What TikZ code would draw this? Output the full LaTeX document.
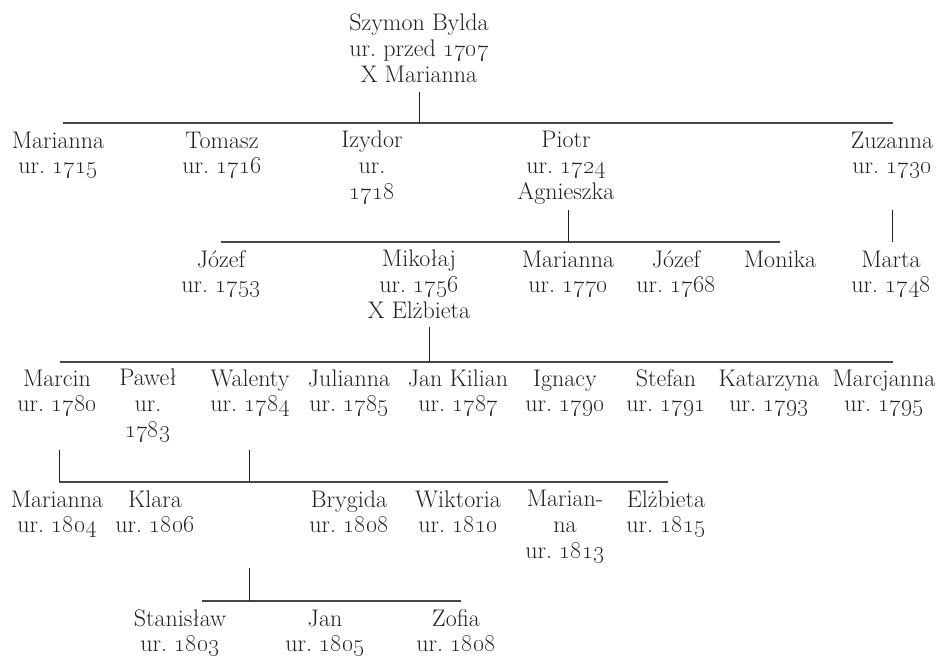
\documentclass[tikz,border=0pt]{standalone}
\definecolor{ink}{RGB}{35,31,32}
\definecolor{rule}{RGB}{70,70,70}
\newcommand\urr[1]{ur.~\oldstylenums{#1}}
\tikzset{
  person/.style={anchor=base, align=center, inner sep=0pt, text=ink,
    font=\fontsize{24}{25.6}\selectfont},
  bar/.style={draw=rule, line width=1.5pt},
  stem/.style={draw=ink, line width=0.9pt},
}
\begin{document}
\begin{tikzpicture}[x=1pt,y=-1pt]
\useasboundingbox (0,0) rectangle (942,657);
% (each node is anchored at the baseline of its last line)
% generation 0
\node[person] (szymon) at (419,82) {Szymon Bylda\\ur.~przed \oldstylenums{1707}\\X Marianna};
% generation 1
\node[person] (marianna1) at (58,173.6) {Marianna\\\urr{1715}};
\node[person] (tomasz) at (222,173.6) {Tomasz\\\urr{1716}};
\node[person] (izydor) at (372,199) {Izydor\\ur.\\\oldstylenums{1718}};
\node[person] (piotr) at (566,199) {Piotr\\\urr{1724}\\Agnieszka};
\node[person] (zuzanna) at (892,173.6) {Zuzanna\\\urr{1730}};
% generation 2
\node[person] (jozef1) at (221,292.6) {Józef\\\urr{1753}};
\node[person] (mikolaj) at (419,318) {Mikołaj\\\urr{1756}\\X Elżbieta};
\node[person] (marianna2) at (568,292.6) {Marianna\\\urr{1770}};
\node[person] (jozef2) at (676,292.6) {Józef\\\urr{1768}};
\node[person] (monika) at (780,267) {Monika};
\node[person] (marta) at (891,292.6) {Marta\\\urr{1748}};
% generation 3
\node[person] (marcin) at (57,411.6) {Marcin\\\urr{1780}};
\node[person] (pawel) at (148,437) {Paweł\\ur.\\\oldstylenums{1783}};
\node[person] (walenty) at (250,411.6) {Walenty\\\urr{1784}};
\node[person] (julianna) at (349,411.6) {Julianna\\\urr{1785}};
\node[person] (jankilian) at (458,411.6) {Jan Kilian\\\urr{1787}};
\node[person] (ignacy) at (565,411.6) {Ignacy\\\urr{1790}};
\node[person] (stefan) at (666,411.6) {Stefan\\\urr{1791}};
\node[person] (katarzyna) at (769,411.6) {Katarzyna\\\urr{1793}};
\node[person] (marcjanna) at (884,411.6) {Marcjanna\\\urr{1795}};
% generation 4 (children of Marcin)
\node[person] (marianna4) at (57,532.6) {Marianna\\\urr{1804}};
\node[person] (klara) at (155,532.6) {Klara\\\urr{1806}};
\node[person] (brygida) at (349,532.6) {Brygida\\\urr{1808}};
\node[person] (wiktoria) at (458,532.6) {Wiktoria\\\urr{1810}};
\node[person] (marianna5) at (565,558) {Marian-\\na\\\urr{1813}};
\node[person] (elzbieta) at (666,532.6) {Elżbieta\\\urr{1815}};
% generation 4 (children of Walenty)
\node[person] (stanislaw) at (180,651.6) {Stanisław\\\urr{1803}};
\node[person] (jan) at (325,651.6) {Jan\\\urr{1805}};
\node[person] (zofia) at (456,651.6) {Zofia\\\urr{1808}};
% bars
\coordinate (b0L) at (63,123);  \coordinate (b0R) at (893,123);
\coordinate (b1L) at (221,242); \coordinate (b1R) at (780,242);
\coordinate (b2L) at (60,362);  \coordinate (b2R) at (893,362);
\coordinate (b3L) at (59,482);  \coordinate (b3R) at (668,482);
\coordinate (b4L) at (202,601); \coordinate (b4R) at (461,601);
\draw[bar] (b0L) -- (b0R);
\draw[bar] (b1L) -- (b1R);
\draw[bar] (b2L) -- (b2R);
\draw[bar] (b3L) -- (b3R);
\draw[bar] (b4L) -- (b4R);
% stems
\coordinate (s0) at (419,92);
\coordinate (s1) at (568,210);
\coordinate (s2) at (892,210);
\coordinate (s2b) at (892,242);
\coordinate (s3) at (429,327);
\coordinate (s4) at (59,450);
\coordinate (s5) at (249,450);
\coordinate (s6) at (249,568);
\draw[stem] (s0) -- (s0 |- b0L);
\draw[stem] (s1) -- (s1 |- b1L);
\draw[stem] (s2) -- (s2b);
\draw[stem] (s3) -- (s3 |- b2L);
\draw[stem] (s4) -- (s4 |- b3L);
\draw[stem] (s5) -- (s5 |- b3L);
\draw[stem] (s6) -- (s6 |- b4L);
\end{tikzpicture}
\end{document}
